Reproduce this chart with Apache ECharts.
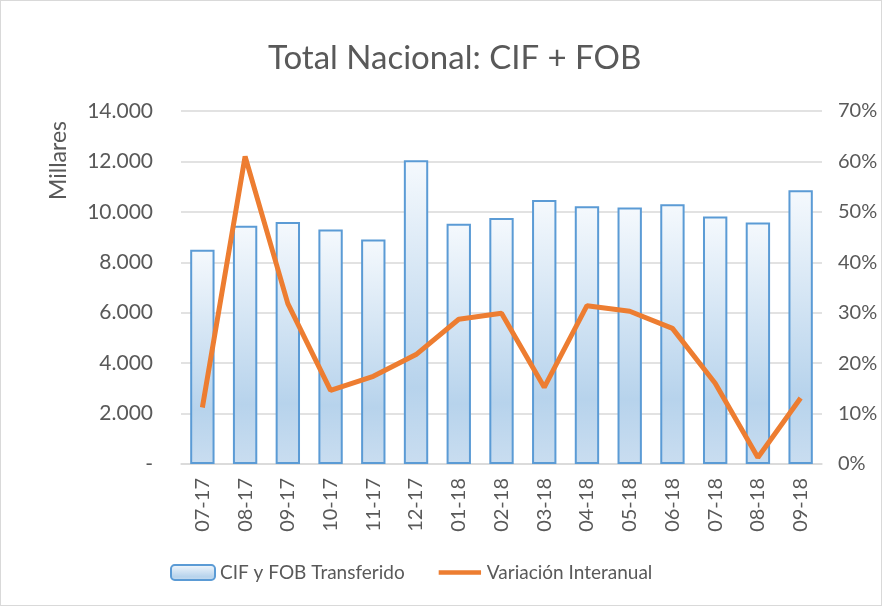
<!DOCTYPE html>
<html>
<head>
<meta charset="utf-8">
<script src="https://cdn.jsdelivr.net/npm/echarts@6/dist/echarts.min.js"></script>
<style>
    html, body { margin: 0; padding: 0; background: #fff; }
    #chart { width: 880px; height: 604px; border: 1px solid #d9d9d9; }
</style>
</head>
<body>
<div id="chart"></div>
<script>
// months shown on the category axis
const months = ['07-17', '08-17', '09-17', '10-17', '11-17', '12-17', '01-18', '02-18',
    '03-18', '04-18', '05-18', '06-18', '07-18', '08-18', '09-18'];

// CIF y FOB Transferido (millares)
const transferido = [8500, 9450, 9600, 9300, 8900, 12050, 9525, 9760,
    10475, 10225, 10170, 10305, 9815, 9580, 10860];

// Variación Interanual (%)
const variacion = [11.2, 61, 31.8, 14.6, 17.4, 21.7, 28.7, 29.9,
    15.2, 31.4, 30.3, 26.9, 16.0, 1.3, 13.1];

const textColor = '#595959';
const font = 'Lato, "Open Sans", sans-serif';

// thousands with a dot, zero as a dash
function formatMillares(v) {
    if (v === 0) return '-';
    return String(v).replace(/\B(?=(\d{3})+(?!\d))/g, '.');
}

const chart = echarts.init(document.getElementById('chart'), null, { renderer: 'canvas' });

chart.setOption({
    animation: false,
    textStyle: { fontFamily: font, color: textColor },
    title: {
        text: 'Total Nacional: CIF + FOB',
        left: 262,
        top: 36,
        textStyle: { fontFamily: font, fontSize: 33, fontWeight: 'normal', color: textColor }
    },
    graphic: [{
        type: 'text',
        left: 46,
        top: 120,
        rotation: Math.PI / 2,
        style: { text: 'Millares', font: '23px ' + font, fill: textColor }
    }],
    grid: { left: 180, right: 59, top: 110, bottom: 141 },
    legend: {
        bottom: 18,
        left: 164,
        itemGap: 34,
        itemWidth: 44,
        itemHeight: 15,
        textStyle: { fontFamily: font, fontSize: 19, color: textColor },
        data: [
            { name: 'CIF y FOB Transferido' },
            // flat bar as the line's legend mark, padded so it keeps its thickness
            { name: 'Variación Interanual', icon: 'path://M0,0 L0,0.01 M0,6 L48,6 L48,11 L0,11 Z M48,17 L48,16.99' }
        ]
    },
    xAxis: {
        type: 'category',
        data: months,
        axisLine: { lineStyle: { color: '#d9d9d9', width: 1.5 } },
        axisTick: { show: false },
        axisLabel: { rotate: 90, fontSize: 20, color: textColor, margin: 14 }
    },
    yAxis: [{
        type: 'value',
        min: 0,
        max: 14000,
        interval: 2000,
        axisLine: { show: false },
        axisTick: { show: false },
        splitLine: { lineStyle: { color: '#d9d9d9', width: 1.5 } },
        axisLabel: { formatter: formatMillares, fontSize: 21, color: textColor, margin: 28 }
    }, {
        type: 'value',
        min: 0,
        max: 70,
        interval: 10,
        axisLine: { show: false },
        axisTick: { show: false },
        splitLine: { show: false },
        axisLabel: { formatter: '{value}%', fontSize: 20, color: textColor, margin: 16 }
    }],
    series: [{
        name: 'CIF y FOB Transferido',
        type: 'bar',
        data: transferido,
        barWidth: '57%',
        itemStyle: {
            borderColor: '#5b9bd5',
            borderWidth: 2,
            color: new echarts.graphic.LinearGradient(0, 0, 0, 1, [
                { offset: 0, color: '#f5f9fd' },
                { offset: 0.75, color: '#b7d3ec' },
                { offset: 1, color: '#c9ddf0' }
            ])
        }
    }, {
        name: 'Variación Interanual',
        type: 'line',
        yAxisIndex: 1,
        data: variacion,
        symbol: 'none',
        lineStyle: { color: '#ed7d31', width: 5 },
        itemStyle: { color: '#ed7d31' }
    }]
});
</script>
</body>
</html>
